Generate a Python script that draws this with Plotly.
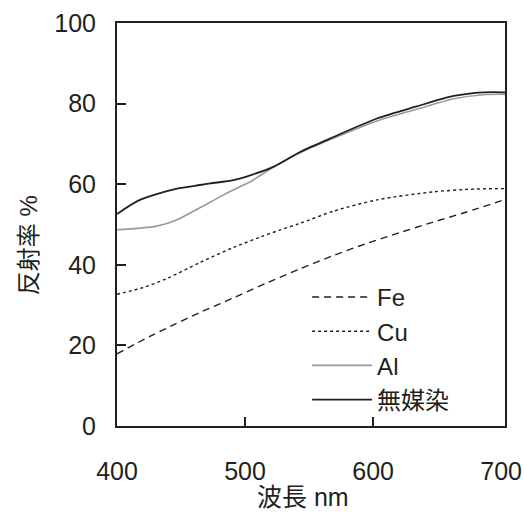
import plotly.graph_objects as go

# wavelength (nm) / reflectance (%)
fe_x = [400, 426, 439, 465, 491, 517, 543, 569, 595, 621, 647, 673, 703]
fe_y = [17.9, 22.3, 24.3, 28.2, 31.8, 35.5, 39.0, 42.3, 45.3, 48.0, 50.6, 53.1, 56.2]

cu_x = [400, 420, 439, 465, 491, 512, 527, 543, 569, 603, 647, 680, 703]
cu_y = [32.7, 34.3, 36.6, 40.6, 44.3, 46.9, 48.6, 50.3, 53.3, 56.1, 58.1, 58.8, 58.9]

al_x = [400, 431, 447, 465, 480, 491, 504, 522, 543, 569, 603, 634, 663, 686, 703]
al_y = [48.7, 49.6, 51.2, 54.2, 56.8, 58.6, 60.6, 64.2, 67.8, 71.4, 75.7, 78.6, 81.2, 82.2, 82.3]

mu_x = [400, 417, 439, 447, 465, 473, 491, 504, 522, 543, 569, 603, 634, 663, 686, 703]
mu_y = [52.6, 56.0, 58.3, 58.9, 59.8, 60.2, 61.0, 62.2, 64.3, 68.0, 71.7, 76.3, 79.3, 81.9, 82.8, 82.8]

names = ["Fe", "Cu", "Al", "無媒染"]
x_ticks = [400, 500, 600, 700]
y_ticks = [0, 20, 40, 60, 80, 100]
x_title = "波長 nm"
y_title = "反射率 %"

INK = "#231f20"
FONT = "Liberation Sans, Arial, Noto Sans CJK JP, sans-serif"

fig = go.Figure()
fig.add_trace(go.Scatter(x=fe_x, y=fe_y, name=names[0], mode="lines",
                         line=dict(color=INK, width=1.4, dash="7px,5px", shape="spline", smoothing=0.8)))
fig.add_trace(go.Scatter(x=cu_x, y=cu_y, name=names[1], mode="lines",
                         line=dict(color=INK, width=1.4, dash="3px,3px", shape="spline", smoothing=0.8)))
fig.add_trace(go.Scatter(x=al_x, y=al_y, name=names[2], mode="lines",
                         line=dict(color="#9a9a9a", width=1.6, shape="spline", smoothing=0.8)))
fig.add_trace(go.Scatter(x=mu_x, y=mu_y, name=names[3], mode="lines",
                         line=dict(color=INK, width=1.8, shape="spline", smoothing=0.8)))

fig.update_layout(
    width=524, height=514,
    margin=dict(l=117, r=19, t=23, b=88, autoexpand=False),
    paper_bgcolor="white", plot_bgcolor="white",
    font=dict(family=FONT, size=25, color=INK),
    showlegend=True,
    legend=dict(x=0.49, y=0.375, xanchor="left", yanchor="top",
                bgcolor="rgba(0,0,0,0)", font=dict(size=24, color=INK),
                itemwidth=60, tracegroupgap=0),
)
fig.update_xaxes(
    range=[400, 703], tickmode="array", tickvals=x_ticks, automargin=False,
    ticks="", showgrid=False, zeroline=False,
    showline=True, linecolor=INK, linewidth=2, mirror=True,
    ticklabelstandoff=22,
    minor=dict(tickmode="array", tickvals=x_ticks[1:-1], ticks="inside",
               ticklen=9, tickwidth=2, tickcolor=INK, showgrid=False),
)
fig.update_yaxes(
    range=[0, 100], tickmode="array", tickvals=y_ticks, automargin=False,
    ticks="inside", ticklen=9, tickwidth=2, tickcolor=INK,
    showgrid=False, zeroline=False,
    showline=True, linecolor=INK, linewidth=2, mirror=True,
    ticklabelstandoff=14,
)
fig.add_annotation(text=x_title, xref="paper", yref="paper", x=0.479, y=-0.176,
                   xanchor="center", yanchor="middle", showarrow=False,
                   font=dict(size=25, color=INK))
fig.add_annotation(text=y_title, xref="paper", yref="paper", x=-0.229, y=0.449,
                   xanchor="center", yanchor="middle", showarrow=False, textangle=-90,
                   font=dict(size=24, color=INK))

fig.write_html("out.html", config={"displayModeBar": False},
               post_script="document.body.style.margin='0';document.body.style.overflow='hidden';")
